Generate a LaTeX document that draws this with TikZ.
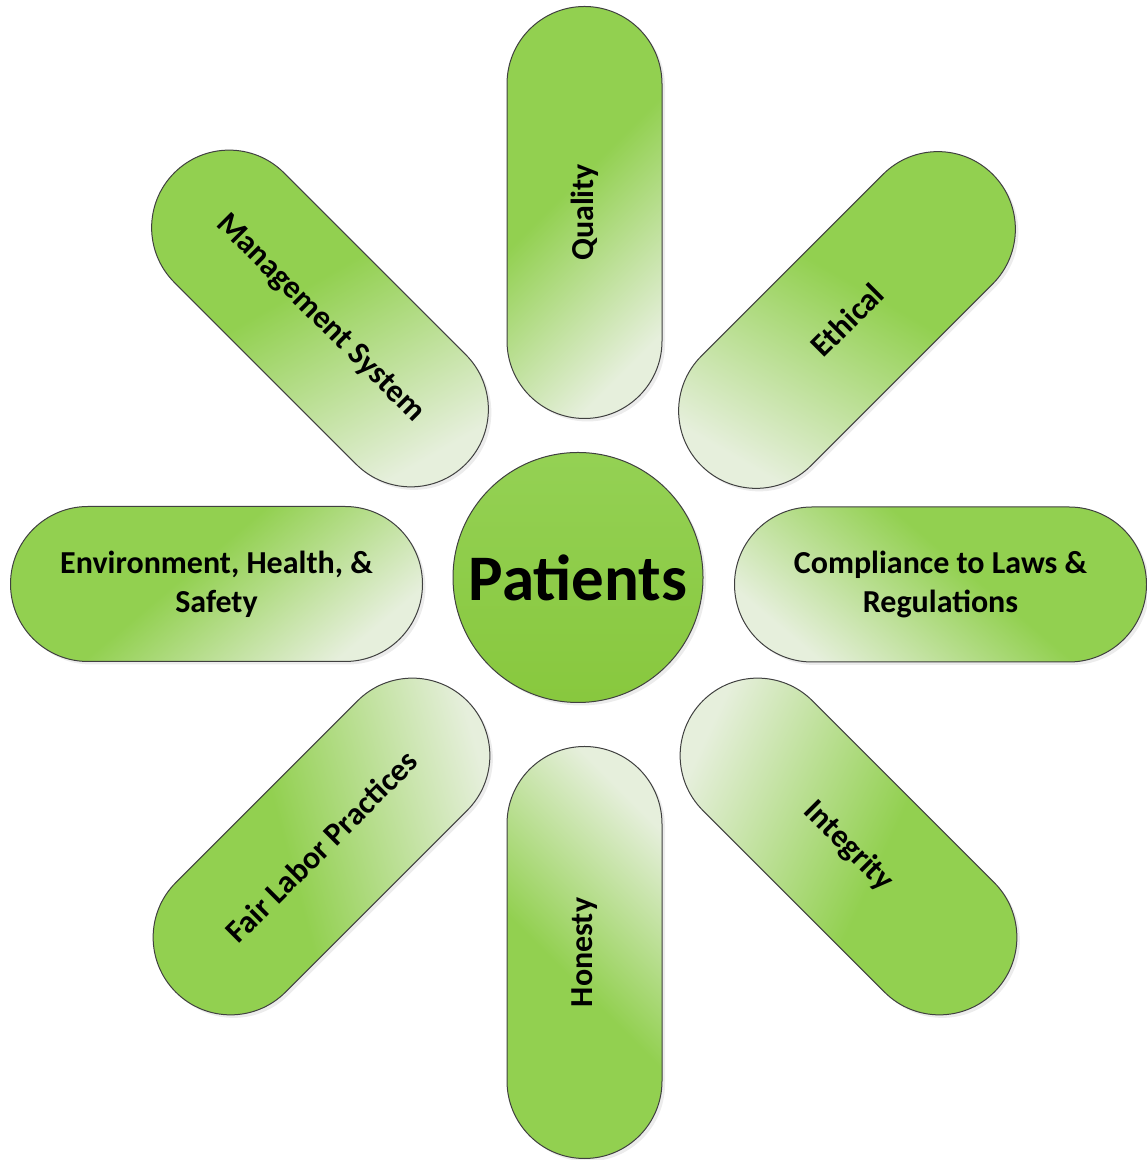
\documentclass[tikz,border=0pt]{standalone}
\usepackage{fontspec}
\setmainfont{Carlito}
\usetikzlibrary{shapes.misc,shadows}

\definecolor{leafgreen}{RGB}{146,208,80}
\definecolor{leafpale}{RGB}{230,239,220}
\definecolor{hubtop}{RGB}{148,209,84}
\definecolor{hubbottom}{RGB}{136,200,62}
\definecolor{rimgray}{RGB}{64,64,64}
\pgfdeclarehorizontalshading{leafshade}{100bp}{color(0bp)=(leafgreen); color(25bp)=(leafgreen); color(45bp)=(leafgreen); color(75bp)=(leafpale); color(100bp)=(leafpale)}

\begin{document}
\begin{tikzpicture}[x=0.5pt, y=0.5pt,
                    line width=0.5pt]
    \tikzstyle{pill}=[rounded rectangle, draw=rimgray, shade, shading=leafshade,
                      minimum width=206pt, minimum height=77.5pt, inner sep=0pt, align=center,
                      font=\fontsize{16}{19.5}\selectfont\bfseries,
                      drop shadow={shadow xshift=1.5pt, shadow yshift=-1.5pt, fill=black!15}]
    \tikzstyle{hub}=[circle, draw=rimgray, top color=hubtop, bottom color=hubbottom,
                     minimum size=125pt, inner sep=0pt,
                     font=\fontsize{32.5}{39}\selectfont\bfseries,
                     drop shadow={shadow xshift=1.5pt, shadow yshift=-1.5pt, fill=black!15}]

    \useasboundingbox (0,0) rectangle (1146,1160);

    % hub
    \node[hub] (patients) at (578,582.5) {Patients};

    % spokes, clockwise from the top (shading angle points to the pale end)
    \node[pill, rotate=90, shading angle=-45]   (quality)    at (584.5,947.5) {Quality};
    \node[pill, rotate=45, shading angle=-120]  (ethical)    at (847,840)     {Ethical};
    \node[pill, shading angle=-130]             (compliance) at (940.5,575.5) {Compliance to Laws \&\\ Regulations};
    \node[pill, rotate=-45, shading angle=155]  (integrity)  at (848.5,313.5) {Integrity};
    \node[pill, rotate=90, shading angle=45]    (honesty)    at (584.5,207.5) {Honesty};
    \node[pill, rotate=45, shading angle=15]    (fairlabor)  at (321.5,313.5) {Fair Labor Practices};
    \node[pill, shading angle=-50]              (ehs)        at (216.5,576)   {Environment, Health, \&\\ Safety};
    \node[pill, rotate=-45, shading angle=-60]  (management) at (320,841.5)   {Management System};
\end{tikzpicture}
\end{document}
